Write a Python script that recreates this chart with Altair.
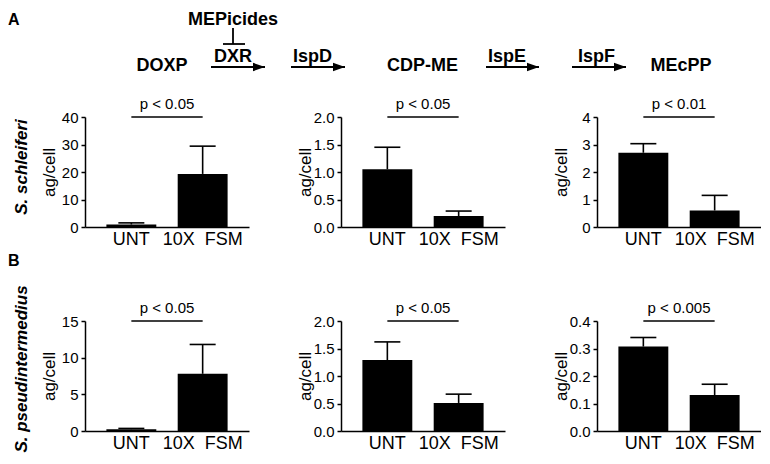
import altair as alt
import pandas as pd

# ------------------------------------------------------------------ data
treatments = ["UNT", "10X\u00a0\u00a0FSM"]
compounds = ["DOXP", "CDP-ME", "MEcPP"]
species = ["S. schleiferi", "S. pseudintermedius"]
panel_tags = ["A", "B"]
enzymes = ["DXR", "IspD", "IspE", "IspF"]
inhibitor = "MEPicides"

# S. schleiferi (row A): mean ag/cell and upper error, [UNT, 10X FSM] per compound
ss_mean = [[0.9, 19.3], [1.05, 0.20], [2.70, 0.60]]
ss_err = [[0.6, 10.1], [0.40, 0.09], [0.33, 0.55]]
ss_ymax = [40, 2.0, 4]
ss_p = ["p < 0.05", "p < 0.05", "p < 0.01"]

# S. pseudintermedius (row B)
sp_mean = [[0.25, 7.8], [1.29, 0.51], [0.307, 0.131]]
sp_err = [[0.10, 4.0], [0.33, 0.16], [0.033, 0.039]]
sp_ymax = [15, 2.0, 0.4]
sp_p = ["p < 0.05", "p < 0.05", "p < 0.005"]

# ------------------------------------------------------------------ layout
W, H = 164, 110
PAD = 0.3
STEP = W / (2 - PAD + 2 * PAD)
FONT = "Liberation Sans"

# pathway diagram positions (px, relative to the top-left panel's plot origin)
compound_px = [77, 337.5, 596]
compound_py = -51
enzyme_px = [129, 208, 403, 493]
enzyme_py = -55
arrow_x1 = [126, 206, 401, 487]
arrow_x2 = [180, 260, 454, 541]
arrow_py = -50
inhib_px, inhib_py = 148, -97
inhib_seg = {"x1": [148, 138], "y1": [-89, -73], "x2": [148, 160], "y2": [-73, -73]}
tag_px, tag_py = [-77, -77], [-105, -68]
rowlab_px, rowlab_py = [-63, -63], [50, 48]


def pxe(f):
    return alt.X(f"{f}:Q", scale=None, axis=None)


def pye(f):
    return alt.Y(f"{f}:Q", scale=None, axis=None)


def panel(means, errs, ymax, ptxt):
    df = pd.DataFrame({
        "treatment": treatments,
        "mean": means,
        "top": [m + e for m, e in zip(means, errs)],
    })
    pdf = pd.DataFrame({"a": [treatments[0]], "b": [treatments[1]],
                        "y": [ymax], "label": [ptxt]})
    xscale = alt.Scale(domain=treatments, paddingInner=PAD, paddingOuter=PAD)
    yscale = alt.Scale(domain=[0, ymax], nice=False)
    xaxis = alt.Axis(title=None, labelAngle=0)
    yaxis = alt.Axis(title="ag/cell", tickCount=4)

    bars = alt.Chart(df).mark_bar(color="black").encode(
        x=alt.X("treatment:N", scale=xscale, axis=xaxis, sort=treatments),
        y=alt.Y("mean:Q", scale=yscale, axis=yaxis))
    err = alt.Chart(df).mark_rule(color="black", strokeWidth=1.6).encode(
        x=alt.X("treatment:N", scale=xscale, axis=xaxis, sort=treatments),
        y=alt.Y("mean:Q", scale=yscale, axis=yaxis), y2="top:Q")
    cap = alt.Chart(df).mark_tick(color="black", thickness=1.6, size=26, opacity=1).encode(
        x=alt.X("treatment:N", scale=xscale, axis=xaxis, sort=treatments),
        y=alt.Y("top:Q", scale=yscale, axis=yaxis))
    pline = alt.Chart(pdf).mark_rule(color="black", strokeWidth=1.5).encode(
        x=alt.X("a:N", scale=xscale, axis=xaxis, sort=treatments), x2="b:N",
        y=alt.Y("y:Q", scale=yscale, axis=yaxis))
    ptext = alt.Chart(pdf).mark_text(dx=STEP / 2, dy=-8, baseline="alphabetic",
                                      fontSize=15, color="black").encode(
        x=alt.X("a:N", scale=xscale, axis=xaxis, sort=treatments),
        y=alt.Y("y:Q", scale=yscale, axis=yaxis), text="label:N")
    return alt.layer(bars, err, cap, pline, ptext).properties(width=W, height=H)


def row_annotations(i, with_header):
    layers = []
    tag_df = pd.DataFrame({"label": [panel_tags[i]], "px": [tag_px[i]], "py": [tag_py[i]]})
    layers.append(alt.Chart(tag_df).mark_text(
        align="left", baseline="top", fontSize=16, fontWeight="bold", color="black").encode(
        x=pxe("px"), y=pye("py"), text="label:N"))
    rl_df = pd.DataFrame({"label": [species[i]], "px": [rowlab_px[i]], "py": [rowlab_py[i]]})
    layers.append(alt.Chart(rl_df).mark_text(
        angle=270, align="center", baseline="middle", fontSize=17, fontWeight="bold",
        fontStyle="italic", color="black").encode(
        x=pxe("px"), y=pye("py"), text="label:N"))
    if with_header:
        cdf = pd.DataFrame({"label": compounds + [inhibitor],
                            "px": compound_px + [inhib_px],
                            "py": [compound_py] * 3 + [inhib_py]})
        layers.append(alt.Chart(cdf).mark_text(
            align="center", baseline="middle", fontSize=18, fontWeight="bold",
            color="black").encode(x=pxe("px"), y=pye("py"), text="label:N"))
        edf = pd.DataFrame({"label": enzymes, "px": enzyme_px, "py": [enzyme_py] * 4})
        layers.append(alt.Chart(edf).mark_text(
            align="left", baseline="alphabetic", fontSize=18, fontWeight="bold",
            color="black").encode(x=pxe("px"), y=pye("py"), text="label:N"))
        adf = pd.DataFrame({"x1": arrow_x1, "x2": arrow_x2, "y": [arrow_py] * 4})
        layers.append(alt.Chart(adf).mark_rule(color="black", strokeWidth=1.8).encode(
            x=pxe("x1"), x2="x2:Q", y=pye("y")))
        hdf = pd.DataFrame({"px": [v - 6 for v in arrow_x2], "py": [arrow_py] * 4})
        layers.append(alt.Chart(hdf).mark_point(
            shape="M-1,-0.7L1,0L-1,0.7Z", filled=True, size=144, color="black",
            opacity=1, strokeWidth=0).encode(x=pxe("px"), y=pye("py")))
        sdf = pd.DataFrame(inhib_seg)
        layers.append(alt.Chart(sdf).mark_rule(color="black", strokeWidth=1.8).encode(
            x=pxe("x1"), y=pye("y1"), x2="x2:Q", y2="y2:Q"))
    return alt.layer(*layers)


panels = []
for row, (means, errs, ymaxs, ps) in enumerate([(ss_mean, ss_err, ss_ymax, ss_p),
                                                 (sp_mean, sp_err, sp_ymax, sp_p)]):
    for col in range(3):
        p = panel(means[col], errs[col], ymaxs[col], ps[col])
        if col == 0:
            p = alt.layer(p, row_annotations(row, row == 0)).resolve_scale(
                x="independent", y="independent").properties(width=W, height=H)
        panels.append(p)

chart = alt.concat(
    *panels, columns=3, spacing={"row": 94, "column": 92}, bounds="flush"
).properties(
    padding={"top": 3, "left": 0, "right": 0, "bottom": 0}
).configure(font=FONT).configure_view(stroke=None).configure_axis(
    domainColor="black", domainWidth=1.5, tickColor="black", tickWidth=1.5,
    labelColor="black", titleColor="black", labelFont=FONT, titleFont=FONT, grid=False
).configure_axisX(
    ticks=False, labelFontSize=18, labelPadding=3
).configure_axisY(
    tickSize=4, labelFontSize=15, labelPadding=3, titleFontSize=17,
    titleFontWeight="normal", titlePadding=1, minExtent=26, maxExtent=26
)

chart.save("out.html", embed_options={"renderer": "svg", "actions": False})
